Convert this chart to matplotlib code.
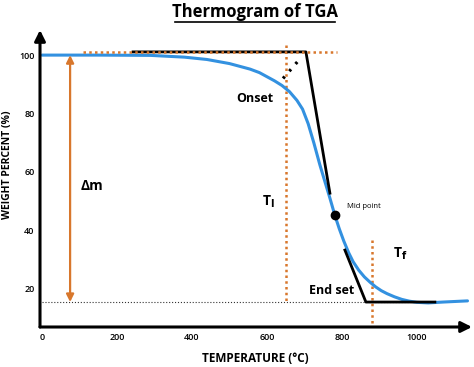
import numpy as np
import matplotlib.pyplot as plt
from matplotlib.lines import Line2D

plt.rcParams['font.family'] = ['Open Sans', 'DejaVu Sans']

# curva TGA
temp = [0, 150, 290, 380, 440, 500, 555, 580, 600, 620, 640, 660, 680, 695, 710, 725, 741, 755, 768, 781,
        793, 805, 818, 830, 845, 860, 875, 890, 905, 920, 940, 960, 980, 1000, 1030, 1070, 1135]
peso = [100, 100, 99.9, 99.3, 98.5, 97.1, 95.2, 94.0, 92.6, 91.2, 89.6, 87.5, 84.5, 81.5, 76.5, 70.0, 62.5, 56.5, 51.0, 45.2,
        40.5, 36.3, 32.3, 29.2, 26.3, 24.0, 22.2, 20.6, 19.3, 18.3, 17.2, 16.3, 15.7, 15.3, 15.1, 15.4, 15.8]

# costruzioni (tangenti, livelli, temperature)
base = 15.4
top = 101.1
tang_on_x = [243, 704, 768]
tang_on_y = [top, top, 52.7]
diag_x = [643, 690]
diag_y = [92, 99]
tang_end_x = [808, 864, 1048]
tang_end_y = [33.2, base, base]
T_i = 651
T_f = 880
mid_T, mid_W = 781, 45.2

xticks = [0, 200, 400, 600, 800, 1000]
yticks = [20, 40, 60, 80, 100]

blu = '#3391e0'
arancio = '#d8772c'
punti = (0, (1.0, 1.3))

fig = plt.figure(figsize=(4.74, 3.67), dpi=100)
ax = fig.add_axes([40/474, 40/367, 432/474, 297/367])
ax.set_xlim(-5.3, 1147)
ax.set_ylim(6.85, 108.6)

# linee di riferimento
ax.plot([0, 1048], [base, base], color='#333333', lw=0.8, ls=':')
ax.plot([T_i, T_i], [103.4, base], color=arancio, lw=1.8, ls=punti)
ax.plot([T_f, T_f], [36.6, 6.85], color=arancio, lw=1.8, ls=punti)

# curva
ax.plot(temp, peso, color=blu, lw=2.2, solid_capstyle='round')

# tangenti
ax.plot(tang_on_x, tang_on_y, color='black', lw=2)
ax.plot([109, 787], [top, top], color=arancio, lw=1.8, ls=punti, zorder=3)
ax.plot(diag_x, diag_y, color='black', lw=2.3, ls=(0, (0.8, 2.2)))
ax.plot(tang_end_x, tang_end_y, color='black', lw=2)
ax.plot(mid_T, mid_W, marker='o', color='black', ms=6)

# freccia delta m
ax.annotate('', xy=(75, base), xytext=(75, 100),
            arrowprops=dict(arrowstyle='<|-|>', color=arancio, lw=1.6, mutation_scale=11,
                            shrinkA=0, shrinkB=0))

# testi
ax.text(568, 85.3, 'Onset', fontsize=9, fontweight='bold', ha='center', va='center')
ax.text(133, 55.1, 'Δm', fontsize=10, fontweight='bold', ha='center', va='center')
ax.text(603, 49.7, r'T$_\mathbf{l}$', fontsize=10, fontweight='bold', ha='center', va='center')
ax.text(813, 48, 'Mid point', fontsize=5.5, ha='left', va='center')
ax.text(955, 32, r'T$_\mathbf{f}$', fontsize=10, fontweight='bold', ha='center', va='center')
ax.text(773, 19.2, 'End set', fontsize=9, fontweight='bold', ha='center', va='center')

# assi con frecce
for s in ax.spines.values():
    s.set_visible(False)
ax.annotate('', xy=(0, 1), xytext=(0, 0), xycoords='axes fraction',
            arrowprops=dict(arrowstyle='-|>', color='black', lw=2.2, mutation_scale=16, shrinkA=0, shrinkB=0))
ax.annotate('', xy=(1, 0), xytext=(0, 0), xycoords='axes fraction',
            arrowprops=dict(arrowstyle='-|>', color='black', lw=2.2, mutation_scale=16, shrinkA=0, shrinkB=0))

ax.set_xticks(xticks)
ax.set_yticks(yticks)
ax.tick_params(length=0, labelsize=6.5, pad=4)
for lab in ax.get_xticklabels() + ax.get_yticklabels():
    lab.set_fontweight('semibold')

# etichette e titolo
fig.text(255/474, 1 - 358/367, 'TEMPERATURE (°C)', fontsize=8.5, fontweight='bold', ha='center', va='center')
fig.text(8/474, 1 - 165/367, 'WEIGHT PERCENT (%)', fontsize=7.5, fontweight='bold', ha='center', va='center',
         rotation=90)
fig.text(255/474, 1 - 12/367, 'Thermogram of TGA', fontsize=12, fontweight='bold', ha='center', va='center')
fig.add_artist(Line2D([175/474, 335/474], [1 - 22/367, 1 - 22/367], color='black', lw=1.2))

fig.savefig('out.png', dpi=100)
